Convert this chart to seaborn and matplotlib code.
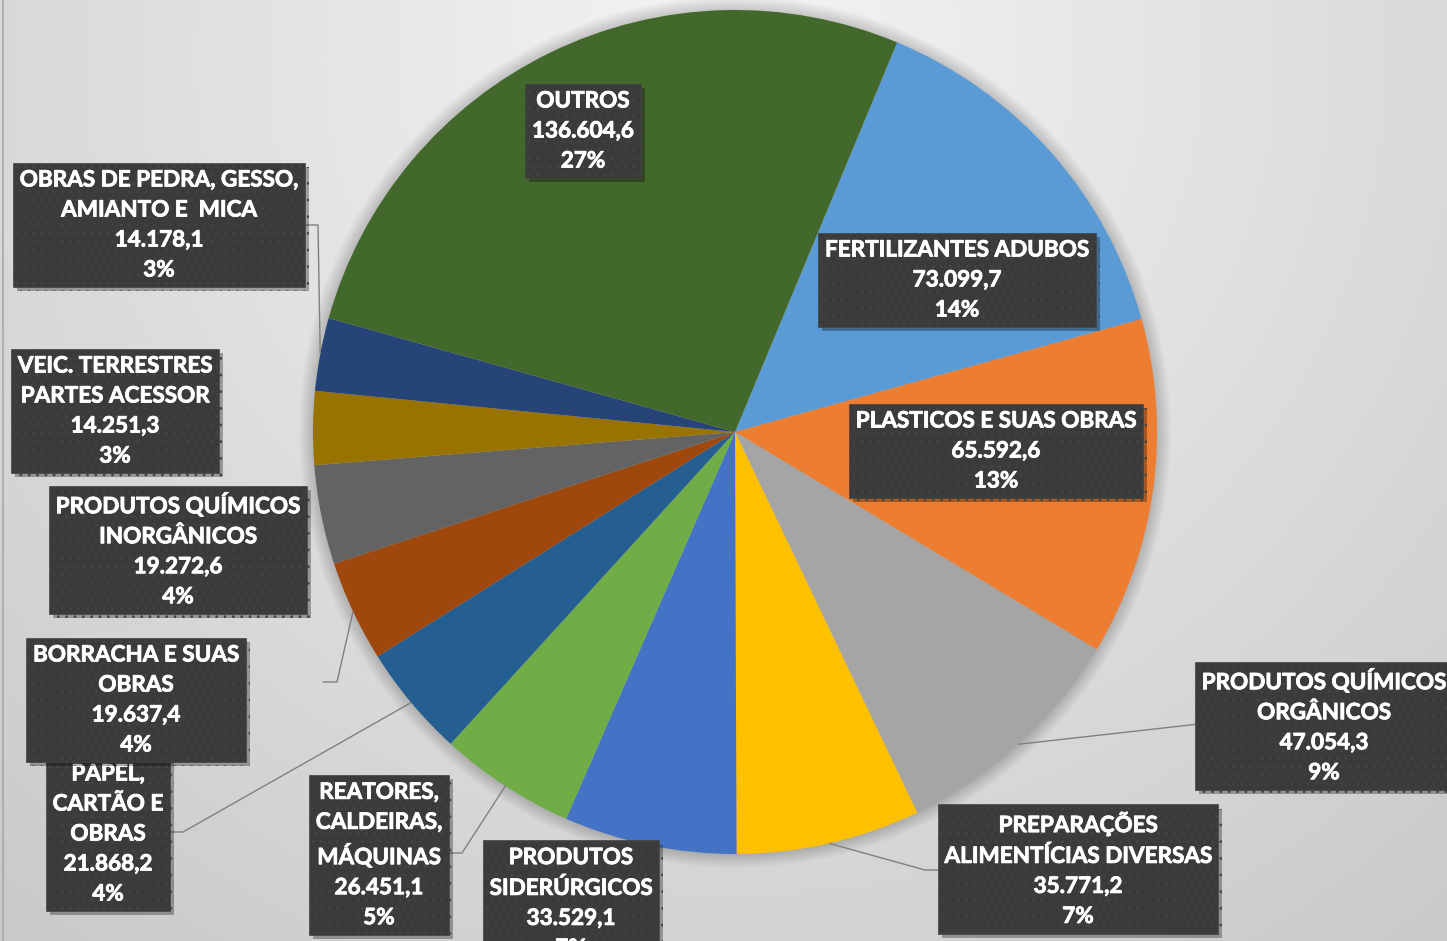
import numpy as np
import matplotlib
matplotlib.use("Agg")
import matplotlib.pyplot as plt
import matplotlib.patheffects as pe
from matplotlib.patches import Circle
import seaborn as sns

# Dados (exportações por grupo de produto)
categorias = [
    "FERTILIZANTES ADUBOS",
    "PLASTICOS E SUAS OBRAS",
    "PRODUTOS QUÍMICOS\nORGÂNICOS",
    "PREPARAÇÕES\nALIMENTÍCIAS DIVERSAS",
    "PRODUTOS\nSIDERÚRGICOS",
    "REATORES,\nCALDEIRAS,\nMÁQUINAS",
    "PAPEL,\nCARTÃO E\nOBRAS",
    "BORRACHA E SUAS\nOBRAS",
    "PRODUTOS QUÍMICOS\nINORGÂNICOS",
    "VEIC. TERRESTRES\nPARTES ACESSOR",
    "OBRAS DE PEDRA, GESSO,\nAMIANTO E  MICA",
    "OUTROS",
]
valores = [73099.7, 65592.6, 47054.3, 35771.2, 33529.1, 26451.1,
           21868.2, 19637.4, 19272.6, 14251.3, 14178.1, 136604.6]
cores = ["#5B9BD5", "#ED7D31", "#A5A5A5", "#FFC000", "#4472C4", "#70AD47",
         "#255E91", "#9E480E", "#636363", "#997300", "#264478", "#43682B"]

# layout (pixels, y from top)
W, H = 1447, 941
cx, cy, raio = 735, 432, 422
pos_rotulos = [(957, 280), (996, 451), (1324, 726), (1078, 869), (571, 903),
               (379, 855), (108, 834), (136, 700), (178, 550), (115, 411),
               (159, 225), (583, 131)]
# leader lines: (anchor at box, elbow) or None
guias = [None, None, ((1199, 724), None), ((938, 870), (925, 870)), None,
         ((449, 853), (462, 853)), ((170, 832), (183, 832)),
         ((323, 682), (337, 682)), None, None, ((305, 225), (318, 225)), None]
z_rotulo = [5, 5, 5, 5, 5, 5, 4, 6, 5, 5, 5, 5]


def fmt_br(v):
    return f"{v:,.1f}".replace(",", "X").replace(".", ",").replace("X", ".")


sns.set_theme(style="white")
plt.rcParams["font.family"] = ["Lato", "DejaVu Sans"]
plt.rcParams["hatch.linewidth"] = 0.8

fig = plt.figure(figsize=(W / 100, H / 100), dpi=100)
ax = fig.add_axes([0, 0, 1, 1])

# background radial gradient
xx, yy = np.meshgrid(np.arange(W), np.arange(H))
d = np.sqrt((xx - 735) ** 2 + (yy - 60) ** 2) / 1000
g = np.clip(0.96 - 0.15 * d, 0, 1)
ax.imshow(np.dstack([g, g, g]), extent=(0, W, H, 0), zorder=0, interpolation="bilinear")

# soft shadow around pie
for i in range(14):
    ax.add_patch(Circle((cx, cy), raio + 14 - i, color="black", alpha=0.012, lw=0, zorder=1))

wedges, _ = ax.pie(valores, colors=cores, startangle=-67.4, counterclock=True,
                   center=(cx, cy), radius=raio, wedgeprops=dict(linewidth=0))
for w in wedges:
    w.set_zorder(2)

total = sum(valores)
for i, (nome, v) in enumerate(zip(categorias, valores)):
    texto = f"{nome}\n{fmt_br(v)}\n{round(v / total * 100):.0f}%"
    x, y = pos_rotulos[i]
    t = ax.text(x, y, texto, ha="center", va="center", color="white",
                fontsize=16.2, fontweight="bold", linespacing=1.53, zorder=z_rotulo[i],
                path_effects=[pe.withStroke(linewidth=0.6, foreground="white")],
                bbox=dict(boxstyle="square,pad=0.3", fc="#3b3b3b", ec="#444444",
                          hatch="..", lw=0.5))
    t.get_bbox_patch().set_path_effects(
        [pe.SimplePatchShadow(offset=(3, -3), shadow_rgbFace="black", alpha=0.3), pe.Normal()])

    if guias[i] is not None:
        ancora, cotovelo = guias[i]
        w = wedges[i]
        meio = np.deg2rad((w.theta1 + w.theta2) / 2)
        px, py = cx + raio * np.cos(meio), cy + raio * np.sin(meio)
        pts = [ancora] + ([cotovelo] if cotovelo else []) + [(px, py)]
        ax.plot([p[0] for p in pts], [p[1] for p in pts], color="#808080", lw=1, zorder=3)

ax.axvline(3, color="#a8a8a8", lw=1.2, zorder=3)
ax.set_xlim(0, W)
ax.set_ylim(H, 0)
ax.set_aspect("auto")
ax.axis("off")

fig.savefig("out.png", dpi=100)
